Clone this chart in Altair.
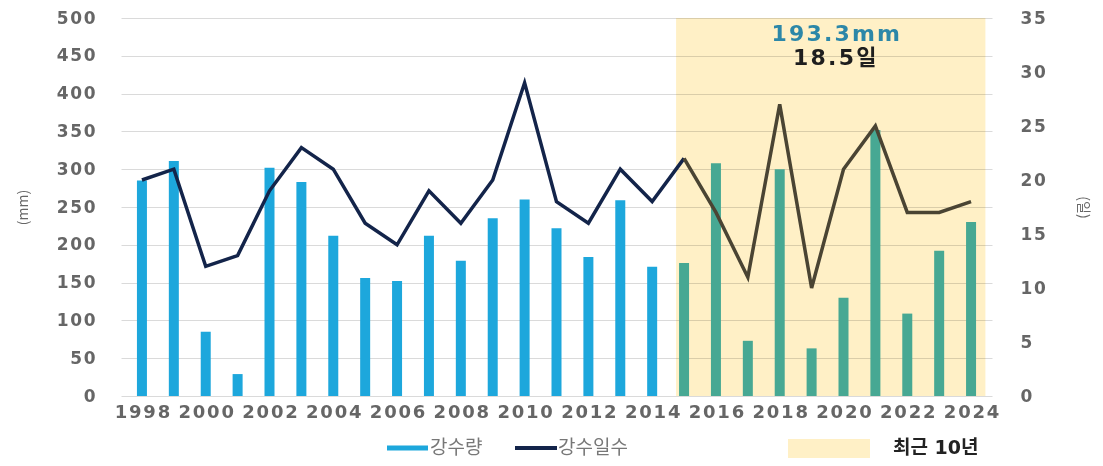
import altair as alt
import pandas as pd

# ---- data ----
years = list(range(1998, 2025))
rain_mm = [285, 311, 85, 29, 302, 283, 212, 156, 152, 212, 179, 235, 260, 222,
           184, 259, 171, 176, 308, 73, 300, 63, 130, 352, 109, 192, 230]
rain_days = [20, 21, 12, 13, 19, 23, 21, 16, 14, 19, 16, 20, 29, 18,
             16, 21, 18, 22, 17, 11, 27, 10, 21, 25, 17, 17, 18]
recent_first_year = 2015
recent_span = [2014.75, 2024.45]
avg_mm_label = "193.3mm"
avg_days_label = "18.5일"
x_tick_years = list(range(1998, 2025, 2))
mm_ticks = list(range(0, 501, 50))
day_ticks = list(range(0, 36, 5))
legend_labels = ["강수량", "강수일수", "최근 10년"]

W, H = 871, 378
BLUE = "#1DA7DC"
TEAL = "#47A893"
NAVY = "#13244A"
BROWN = "#4A4433"
ZONE = "#FFF0C6"
LABEL_FONT = "DejaVu Sans"
KR_FONT = "Noto Sans CJK KR"
MIX_FONT = 'DejaVu Sans, "Noto Sans CJK KR"'
SPACED = "join(split(datum.label, ''), '\u200a')"

df = pd.DataFrame({"year": years, "mm": rain_mm, "days": rain_days})

old = df[df.year <= recent_first_year].assign(seg="old")
new = df[df.year >= recent_first_year].assign(seg="recent")
line_df = pd.concat([old, new], ignore_index=True)

xscale = alt.Scale(domain=[1997.5, 2024.5], nice=False, zero=False)
xaxis = alt.Axis(values=x_tick_years, format="d", title=None, grid=False,
                 domain=False, ticks=False, labelPadding=7, labelExpr=SPACED,
                 labelFont=LABEL_FONT, labelFontSize=18, labelFontWeight="bold",
                 labelColor="#666666", labelFlush=False, labelOverlap=False)

zone = alt.Chart(pd.DataFrame({"s": [recent_span[0]], "e": [recent_span[1]]})).mark_rect(
    color=ZONE, blend="multiply"
).encode(
    x=alt.X("s:Q", scale=xscale, axis=xaxis), x2="e:Q",
    y=alt.value(0), y2=alt.value(H),
)

bars = alt.Chart(df).mark_bar(size=10).encode(
    x=alt.X("year:Q", scale=xscale, axis=xaxis),
    y=alt.Y("mm:Q", scale=alt.Scale(domain=[0, 500], nice=False),
            axis=alt.Axis(orient="left", values=mm_ticks, title="(mm)",
                          grid=True, gridColor="#DADADA", gridWidth=1,
                          domain=False, ticks=False, labelPadding=26, labelExpr=SPACED,
                          labelFont=LABEL_FONT, labelFontSize=17, labelFontWeight="bold",
                          labelColor="#666666", titleFont=KR_FONT, titleFontSize=14,
                          titleFontWeight="normal", titleColor="#666666",
                          titlePadding=26)),
    color=alt.condition(f"datum.year >= {recent_first_year}", alt.value(TEAL), alt.value(BLUE)),
)

ann_df = pd.DataFrame({"x": [sum(recent_span) / 2] * 2,
                       "label": [avg_mm_label, avg_days_label],
                       "row": [0, 1]})
ann1 = alt.Chart(ann_df[ann_df.row == 0]).transform_calculate(
    shown="join(split(datum.label, ''), '\u200a')"
).mark_text(
    font=LABEL_FONT, fontSize=22, fontWeight="bold", color="#2C87A8", dx=5
).encode(x=alt.X("x:Q", scale=xscale, axis=xaxis), y=alt.value(16), text="shown:N")
ann2 = alt.Chart(ann_df[ann_df.row == 1]).transform_calculate(
    shown="join(split(datum.label, ''), '\u200a')"
).mark_text(
    font=MIX_FONT, fontSize=22, fontWeight="bold", color="#1E1E1E", dx=4
).encode(x=alt.X("x:Q", scale=xscale, axis=xaxis), y=alt.value(40), text="shown:N")

# legend (decoration)
leg_y = 430
lg1 = alt.Chart(pd.DataFrame({"a": [0]})).mark_rule(color=BLUE, strokeWidth=5).encode(
    x=alt.value(266), x2=alt.value(307), y=alt.value(leg_y))
lg2 = alt.Chart(pd.DataFrame({"a": [0]})).mark_rule(color=NAVY, strokeWidth=4).encode(
    x=alt.value(394), x2=alt.value(436), y=alt.value(leg_y))
lg3 = alt.Chart(pd.DataFrame({"a": [0]})).mark_rect(color=ZONE).encode(
    x=alt.value(667), x2=alt.value(749), y=alt.value(421), y2=alt.value(448))
lt1 = alt.Chart(pd.DataFrame({"t": [legend_labels[0]]})).mark_text(
    font=KR_FONT, fontSize=19, color="#777777", align="left", baseline="middle").encode(
    x=alt.value(309), y=alt.value(leg_y), text="t:N")
lt2 = alt.Chart(pd.DataFrame({"t": [legend_labels[1]]})).mark_text(
    font=KR_FONT, fontSize=19, color="#777777", align="left", baseline="middle").encode(
    x=alt.value(437), y=alt.value(leg_y), text="t:N")
lt3 = alt.Chart(pd.DataFrame({"t": [legend_labels[2]]})).mark_text(
    font=MIX_FONT, fontSize=19, fontWeight="bold", color="#222222", align="left",
    baseline="middle").encode(x=alt.value(772), y=alt.value(leg_y), text="t:N")

left = alt.layer(zone, bars, ann1, ann2, lg1, lg2, lg3, lt1, lt2, lt3)

line = alt.Chart(line_df).mark_line(strokeWidth=3.5, strokeJoin="miter").encode(
    x=alt.X("year:Q", scale=xscale, axis=xaxis),
    y=alt.Y("days:Q", scale=alt.Scale(domain=[0, 35], nice=False),
            axis=alt.Axis(orient="right", values=day_ticks, title="(일)", grid=False,
                          domain=False, ticks=False, labelPadding=28, labelExpr=SPACED,
                          labelFont=LABEL_FONT, labelFontSize=17, labelFontWeight="bold",
                          labelColor="#666666", titleFont=KR_FONT, titleFontSize=14,
                          titleFontWeight="normal", titleColor="#666666",
                          titleAngle=90, titlePadding=30)),
    color=alt.Color("seg:N", scale=alt.Scale(domain=["old", "recent"], range=[NAVY, BROWN]),
                    legend=None),
    detail="seg:N",
)

chart = alt.layer(left, line).resolve_scale(y="independent").properties(
    width=W, height=H,
    autosize=alt.AutoSizeParams(type="none"),
    padding={"left": 113, "top": 10, "right": 103, "bottom": 62},
).configure_view(stroke=None)

chart.save("out.html", embed_options={"renderer": "svg", "actions": False})
